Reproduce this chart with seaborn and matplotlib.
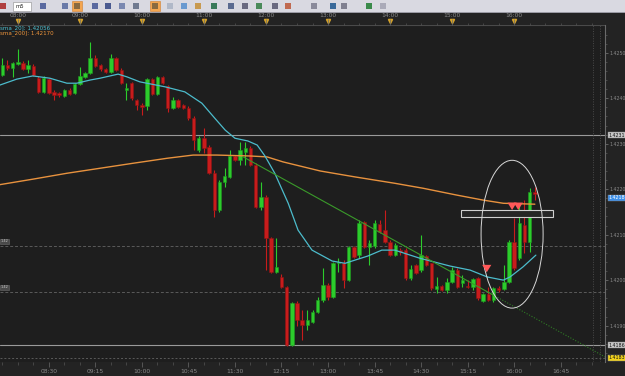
import numpy as np
import pandas as pd
import matplotlib
matplotlib.use("Agg")
import matplotlib.pyplot as plt
import matplotlib.transforms as mtransforms
from matplotlib.patches import Ellipse, Rectangle
import seaborn as sns

# ---------------- data (M5 candles, index 0 = 07:45) ----------------
opens = [1.42451,1.42473,1.42466,1.42475,1.42477,1.42464,1.42471,1.42444,1.42414,1.42442,
         1.42414,1.42411,1.42405,1.42418,1.42411,1.42431,1.42447,1.42455,1.42488,1.42473,
         1.42464,1.42458,1.42488,1.42462,1.42418,1.42433,1.42396,1.42385,1.42383,1.42442,
         1.42409,1.42447,1.42427,1.42378,1.42396,1.42385,1.42378,1.42356,1.42286,1.42312,
         1.42293,1.42235,1.42154,1.42216,1.42227,1.42273,1.42264,1.42282,1.42290,1.42253,
         1.42161,1.42183,1.42092,1.42018,1.42007,1.41985,1.41857,1.41949,1.41912,1.41901,
         1.41908,1.41930,1.41956,1.41989,1.41963,1.42037,1.42037,1.42000,1.42073,1.42055,
         1.42128,1.42073,1.42075,1.42123,1.42110,1.42084,1.42055,1.42066,1.42066,1.42004,
         1.42033,1.42022,1.42053,1.42037,1.41980,1.41987,1.41978,1.41996,1.42022,1.41993,
         1.41987,1.41985,1.42004,1.41954,1.41969,1.41956,1.41982,1.41980,1.41996,1.42084,
         1.42048,1.42121,1.42084,1.42194]
highs = [1.42488,1.42484,1.42480,1.42508,1.42482,1.42484,1.42475,1.42449,1.42449,1.42444,
         1.42418,1.42414,1.42420,1.42422,1.42433,1.42469,1.42458,1.42524,1.42495,1.42475,
         1.42466,1.42497,1.42491,1.42466,1.42433,1.42436,1.42398,1.42389,1.42444,1.42444,
         1.42449,1.42449,1.42429,1.42403,1.42398,1.42387,1.42383,1.42361,1.42317,1.42334,
         1.42297,1.42242,1.42220,1.42246,1.42286,1.42275,1.42304,1.42304,1.42295,1.42257,
         1.42216,1.42187,1.42095,1.42092,1.42013,1.41987,1.41952,1.41954,1.41934,1.41934,
         1.41934,1.41963,1.42026,1.41993,1.42040,1.42048,1.42044,1.42075,1.42075,1.42132,
         1.42130,1.42088,1.42132,1.42132,1.42154,1.42088,1.42081,1.42070,1.42070,1.42033,
         1.42035,1.42099,1.42055,1.42037,1.42007,1.41989,1.42004,1.42029,1.42026,1.42011,
         1.42000,1.42004,1.42007,1.41971,1.41985,1.41985,1.41987,1.42033,1.42088,1.42136,
         1.42165,1.42176,1.42202,1.42205]
lows = [1.42449,1.42462,1.42447,1.42473,1.42462,1.42455,1.42449,1.42411,1.42411,1.42409,
        1.42396,1.42403,1.42403,1.42407,1.42409,1.42429,1.42444,1.42453,1.42469,1.42460,
        1.42455,1.42455,1.42460,1.42431,1.42396,1.42396,1.42374,1.42363,1.42374,1.42407,
        1.42407,1.42431,1.42370,1.42376,1.42378,1.42376,1.42352,1.42286,1.42282,1.42279,
        1.42233,1.42139,1.42150,1.42205,1.42224,1.42262,1.42253,1.42253,1.42251,1.42158,
        1.42154,1.42022,1.42015,1.42015,1.41982,1.41855,1.41855,1.41899,1.41868,1.41890,
        1.41905,1.41927,1.41952,1.41956,1.41960,1.42018,1.41982,1.41998,1.42048,1.42048,
        1.42070,1.42033,1.42070,1.42103,1.42081,1.42053,1.42053,1.42055,1.42000,1.42000,
        1.42013,1.42018,1.42031,1.41978,1.41971,1.41976,1.41971,1.41993,1.41982,1.41985,
        1.41982,1.41978,1.41956,1.41952,1.41954,1.41952,1.41974,1.41978,1.41993,1.42022,
        1.42044,1.42059,1.42062,1.42176]
closes = [1.42473,1.42466,1.42477,1.42480,1.42464,1.42473,1.42451,1.42414,1.42444,1.42411,
          1.42407,1.42407,1.42418,1.42409,1.42431,1.42449,1.42455,1.42488,1.42471,1.42464,
          1.42458,1.42488,1.42462,1.42433,1.42422,1.42400,1.42385,1.42381,1.42442,1.42409,
          1.42447,1.42433,1.42378,1.42396,1.42381,1.42378,1.42356,1.42308,1.42312,1.42290,
          1.42235,1.42154,1.42216,1.42229,1.42273,1.42264,1.42286,1.42290,1.42253,1.42161,
          1.42183,1.42092,1.42018,1.42029,1.41985,1.41857,1.41949,1.41912,1.41901,1.41912,
          1.41930,1.41956,1.41989,1.41963,1.42037,1.42040,1.42000,1.42073,1.42051,1.42125,
          1.42073,1.42081,1.42125,1.42106,1.42084,1.42055,1.42077,1.42062,1.42004,1.42024,
          1.42015,1.42055,1.42033,1.41982,1.41987,1.41978,1.41996,1.42022,1.41985,1.42000,
          1.41984,1.42002,1.41960,1.41969,1.41956,1.41982,1.41978,1.41996,1.42084,1.42026,
          1.42125,1.42084,1.42194,1.42189]

# moving averages (candle index, price)
sma20_t = [-0.45, 2.8, 5.9, 9.2, 12.5, 14.4, 17.0, 18.9, 22.4, 24.1, 26.6, 31.5, 35.3,
           38.6, 41.1, 43.1, 45.0, 47.5, 49.3, 50.8, 52.7, 55.3, 57.2, 59.9, 63.8, 66.3,
           68.2, 70.7, 73.4, 75.9, 80.8, 86.6, 90.5, 93.8, 96.9, 98.2, 100.7, 103.2]
sma20_v = [1.42429, 1.42442, 1.42449, 1.42444, 1.42433, 1.42433, 1.42440, 1.42444,
           1.42453, 1.42447, 1.42436, 1.42425, 1.42414, 1.42389, 1.42356, 1.42330,
           1.42312, 1.42306, 1.42297, 1.42273, 1.42235, 1.42169, 1.42110, 1.42066,
           1.42042, 1.42037, 1.42044, 1.42053, 1.42066, 1.42066, 1.42048, 1.42031,
           1.42022, 1.42007, 1.42000, 1.42007, 1.42029, 1.42055]
sma200_t = [-0.45, 5.9, 12.5, 18.9, 25.3, 31.9, 36.9, 41.5, 47.9, 51.2, 54.3, 61.5,
            68.2, 75.9, 81.4, 87.9, 93.0, 96.9, 103.0]
sma200_v = [1.42210, 1.42222, 1.42235, 1.42246, 1.42257, 1.42268, 1.42275, 1.42275,
            1.42273, 1.42271, 1.42260, 1.42240, 1.42227, 1.42213, 1.42202, 1.42187,
            1.42176, 1.42169, 1.42167]
trend_t = [46.6, 95.3, 116.6]
trend_v = [1.42271, 1.41965, 1.41831]

hline_solid = [1.42319, 1.41857]
hline_dashed = [1.42075, 1.41974]
hline_bottom = 1.41829
vline_dotted = [114.3, 115.6]

bottom_pos = [9, 18, 27, 36, 45, 54, 63, 72, 81, 90, 99, 108]
bottom_labels = ["08:30", "09:15", "10:00", "10:45", "11:30", "12:15", "13:00",
                 "13:45", "14:30", "15:15", "16:00", "16:45"]
top_pos = [3, 15, 27, 39, 51, 63, 75, 87, 99]
top_labels = ["08:00", "09:00", "10:00", "11:00", "12:00", "13:00", "14:00",
              "15:00", "16:00"]
price_ticks = [1.4190, 1.4200, 1.4210, 1.4220, 1.4230, 1.4240, 1.4250]
price_tags = [("1.4231", 1.42319, "#c8c8c8", "#111111"),
              ("1.4218", 1.42181, "#3d8fe8", "#ffffff"),
              ("1.4186", 1.41857, "#c8c8c8", "#111111"),
              ("1.4183", 1.41829, "#f2d21c", "#111111")]
legend_lines = [("sma_20]: 1.42056", "#4fc3d3"), ("sma_200]: 1.42170", "#f0963c")]

# ---------------- styling ----------------
sns.set_theme(style="dark")
plt.rcParams['font.family'] = ['DejaVu Sans']

W, H = 625, 376
fig = plt.figure(figsize=(W / 100, H / 100), dpi=100)
fig.patch.set_facecolor("#232323")

ax = fig.add_axes([0, 14 / H, 605 / W, 337 / H])
ax.set_facecolor("#1e1e1e")
ax.set_xlim(-0.445, 116.57)
ax.set_ylim(1.41820, 1.42561)
ax.grid(False)

df = pd.DataFrame({"o": opens, "h": highs, "l": lows, "c": closes})
df["i"] = np.arange(len(df))
up = df["c"] >= df["o"]
col = np.where(up, "#2ccc2c", "#c81c1c")
edge = np.where(up, "#1f9a1f", "#8e1414")

# wicks then bodies
ax.vlines(df["i"], df["l"], df["h"], colors=col, linewidth=0.8, zorder=3)
body_lo = np.minimum(df["o"], df["c"])
body_h = np.maximum(np.abs(df["c"] - df["o"]), 0.000025)
ax.bar(df["i"], body_h, bottom=body_lo, width=0.66, color=col, edgecolor=edge,
       linewidth=0.4, zorder=4)

# moving averages and trend line through seaborn
sns.lineplot(x=sma200_t, y=sma200_v, ax=ax, color="#e8923e", linewidth=1.0, zorder=5)
sns.lineplot(x=sma20_t, y=sma20_v, ax=ax, color="#4cbccc", linewidth=0.9, zorder=5)
sns.lineplot(x=trend_t[:2], y=trend_v[:2], ax=ax, color="#3a9a2a", linewidth=0.8, zorder=5)
sns.lineplot(x=trend_t[1:], y=trend_v[1:], ax=ax, color="#2f7a25", linewidth=0.8,
             linestyle=(0, (1, 1.5)), zorder=5)

# horizontal / vertical reference lines
for v in hline_solid:
    ax.axhline(v, color="#9a9a9a", linewidth=0.8, zorder=2)
for v in hline_dashed:
    ax.axhline(v, color="#5a5a5a", linewidth=0.7, linestyle=(0, (3, 2)), zorder=2)
ax.axhline(hline_bottom, color="#5a5a5a", linewidth=0.7, linestyle=(0, (2, 2)), zorder=2)
for v in vline_dotted:
    ax.axvline(v, color="#4a4a4a", linewidth=0.7, linestyle=(0, (1, 1.5)), zorder=2)

# annotations: box, ellipse, arrows
ax.add_patch(Rectangle((88.7, 1.42139), 17.8, 0.00015, facecolor="#262626",
                       edgecolor="#d0d0d0", linewidth=0.8, zorder=6))
ax.add_patch(Ellipse((98.6, 1.42101), 12.0, 0.00325, facecolor="none",
                     edgecolor="#d8d8d8", linewidth=0.7, zorder=7))
arrow_style = "simple,head_width=0.55,head_length=0.45,tail_width=0.28"
for xi, ytop, ybot in [(93.7, 1.42037, 1.42011), (98.6, 1.42176, 1.42148),
                       (99.8, 1.42176, 1.42148)]:
    ax.annotate("", xy=(xi, ybot), xytext=(xi, ytop),
                arrowprops=dict(arrowstyle=arrow_style, color="#ff5858", lw=0),
                zorder=8)

# left tags
for v in hline_dashed:
    ax.text(-0.3, v + 0.0001, "1.42", fontsize=2.5, color="#cccccc", va="center",
            ha="left", bbox=dict(boxstyle="square,pad=0.25", fc="#4a4a4a", ec="#6a6a6a",
                                 lw=0.4), zorder=9)

# axes/ticks
for s in ["left", "top", "bottom"]:
    ax.spines[s].set_visible(False)
ax.spines["right"].set_color("#6a6a6a")
ax.spines["right"].set_linewidth(0.8)
ax.yaxis.tick_right()
ax.set_yticks(price_ticks)
ax.set_yticklabels([f"{p:.4f}" for p in price_ticks])
ax.set_yticks(np.arange(1.4184, 1.4256, 0.0002), minor=True)
ax.tick_params(axis="y", which="major", colors="#7a7a7a", labelcolor="#8a8a8a",
               labelsize=3.4, length=2.5, width=0.5, pad=1.0)
ax.tick_params(axis="y", which="minor", colors="#5a5a5a", length=1.5, width=0.5)

ax.set_xticks(bottom_pos)
ax.set_xticklabels(bottom_labels)
ax.set_xticks(np.arange(0, 117, 3), minor=True)
ax.tick_params(axis="x", which="major", colors="#6a6a6a", labelcolor="#8a8a8a",
               labelsize=4.3, length=3.5, width=0.5, pad=1.2)
ax.tick_params(axis="x", which="minor", colors="#555555", length=1.8, width=0.5)

ax2 = ax.twiny()
ax2.set_xlim(ax.get_xlim())
ax2.grid(False)
for s in ax2.spines.values():
    s.set_visible(False)
ax2.set_xticks(top_pos)
ax2.set_xticklabels(top_labels)
ax2.set_xticks(np.arange(0, 117, 3), minor=True)
ax2.tick_params(axis="x", which="major", colors="#6a6a6a", labelcolor="#8a8a8a",
                labelsize=4.3, length=4.5, width=0.5, pad=0.8)
ax2.tick_params(axis="x", which="minor", colors="#555555", length=1.8, width=0.5)
ax2.tick_params(axis="y", left=False, right=False, labelleft=False, labelright=False)
ax.axhline(ax.get_ylim()[1], color="#4a4a4a", linewidth=0.8, zorder=1)

trans = mtransforms.blended_transform_factory(ax.transData, ax.transAxes)
ax.plot(top_pos, [1.011] * len(top_pos), marker="v", linestyle="none",
        color="#d4a22a", markersize=3, transform=trans, clip_on=False, zorder=10)

# right price tags
trans_r = mtransforms.blended_transform_factory(ax.transAxes, ax.transData)
for txt, v, fc, tc in price_tags:
    ax.text(1.006, v, txt, fontsize=3.4, color=tc, va="center", ha="left",
            transform=trans_r, clip_on=False, zorder=11,
            bbox=dict(boxstyle="square,pad=0.15", fc=fc, ec="#888888", lw=0.3))

# legend text (top-left)
for k, (txt, c) in enumerate(legend_lines):
    fig.text(0.0, 1 - (28 + 5 * k) / H, txt, color=c, fontsize=4.0, va="center",
             ha="left")

# toolbar
fig.add_artist(Rectangle((0, 1 - 12 / H), 1, 12 / H, transform=fig.transFigure,
                         facecolor="#d9d9e1", edgecolor="none", zorder=20))
fig.add_artist(Rectangle((0, 1 - 13 / H), 1, 1 / H, transform=fig.transFigure,
                         facecolor="#9a9aa4", edgecolor="none", zorder=20))
fig.add_artist(Rectangle((13 / W, 1 - 10.5 / H), 18 / W, 8.5 / H, transform=fig.transFigure,
                         facecolor="#ffffff", edgecolor="#8a8a8a", lw=0.4, zorder=21))
fig.text(15 / W, 1 - 6.3 / H, "m5", fontsize=3.8, color="#222222", va="center",
         ha="left", zorder=22)
icon_x = [3, 43, 65, 95, 108, 122, 136, 170, 184, 198, 214, 231, 245, 259, 275,
          288, 314, 333, 344, 369, 383]
icon_c = ["#b04040", "#5a6aa0", "#6a7aa8", "#5a6aa0", "#4a5a90", "#7a88b0", "#707a90",
          "#b0b8c8", "#6a9ad0", "#c89a50", "#3a7a5a", "#5a6a90", "#6a6a80", "#4a8a5a",
          "#6a6a80", "#c06a50", "#8a8a9a", "#3a6a9a", "#808090", "#3a8a4a", "#aaaab8"]
for xx, cc in zip(icon_x, icon_c):
    fig.add_artist(Rectangle(((xx - 3) / W, 1 - 9 / H), 6 / W, 6 / H,
                             transform=fig.transFigure, facecolor=cc,
                             edgecolor="none", zorder=21))
for xx in [77, 155]:
    fig.add_artist(Rectangle(((xx - 5) / W, 1 - 11 / H), 10 / W, 10 / H,
                             transform=fig.transFigure, facecolor="#f4a650",
                             edgecolor="#d08030", lw=0.4, zorder=21))
    fig.add_artist(Rectangle(((xx - 3) / W, 1 - 9 / H), 6 / W, 6 / H,
                             transform=fig.transFigure, facecolor="#8a6a40",
                             edgecolor="none", zorder=22))

fig.savefig("out.png", dpi=100, facecolor=fig.get_facecolor())
